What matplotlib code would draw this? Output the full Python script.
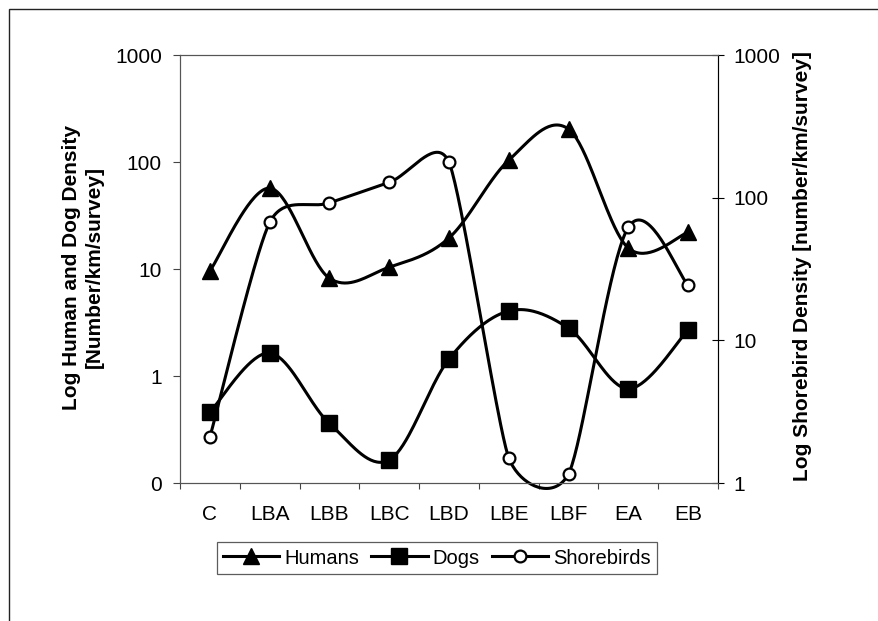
import numpy as np
import matplotlib
matplotlib.use("Agg")
import matplotlib.pyplot as plt
from matplotlib.lines import Line2D
from matplotlib.patches import Rectangle
from matplotlib.ticker import FixedLocator, FixedFormatter, NullLocator

plt.rcParams['font.family'] = ['Liberation Sans', 'DejaVu Sans']

# Survey sites
sites = ["C", "LBA", "LBB", "LBC", "LBD", "LBE", "LBF", "EA", "EB"]

# Densities (number/km/survey)
humans = [9.6, 57, 8.2, 10.4, 19.5, 104, 203, 15.7, 22]
dogs = [0.46, 1.64, 0.36, 0.164, 1.44, 4.05, 2.8, 0.76, 2.7]
shorebirds = [2.1, 67, 92, 128, 177, 1.5, 1.16, 62, 24.4]

left_ticks = [0.1, 1, 10, 100, 1000]
left_labels = ["0", "1", "10", "100", "1000"]
right_ticks = [1, 10, 100, 1000]
right_labels = ["1", "10", "100", "1000"]


def smooth_curve(ax, xs, ys, n=40):
    """Bezier smoothing in screen space, tangents limited by segment lengths."""
    to_disp = ax.transData
    pts = to_disp.transform(np.column_stack([xs, ys]))
    npts = len(pts)
    out_ctrl = []
    in_ctrl = []
    for i in range(npts):
        p_prev = pts[max(i - 1, 0)]
        p_next = pts[min(i + 1, npts - 1)]
        d = p_next - p_prev
        d02 = np.hypot(*d)
        d01 = np.hypot(*(pts[i] - p_prev))
        d12 = np.hypot(*(p_next - pts[i]))
        f = 1.0 / 6.0
        if 0 < i < npts - 1 and d02 > 0:
            if d02 / 6 >= d12 / 2 or d02 / 6 >= d01 / 2:
                f = min(d01, d12) / (2 * d02)
        out_ctrl.append(pts[i] + f * d)
        in_ctrl.append(pts[i] - f * d)
    t = np.linspace(0, 1, n)[:, None]
    segs = []
    for i in range(npts - 1):
        p1, p2 = pts[i], pts[i + 1]
        c1, c2 = out_ctrl[i], in_ctrl[i + 1]
        seg = (1 - t) ** 3 * p1 + 3 * (1 - t) ** 2 * t * c1 + 3 * (1 - t) * t ** 2 * c2 + t ** 3 * p2
        segs.append(seg if i == 0 else seg[1:])
    curve = to_disp.inverted().transform(np.vstack(segs))
    return curve[:, 0], curve[:, 1]


fig = plt.figure(figsize=(8.79, 6.21), dpi=100)
ax = fig.add_axes([0.2048, 0.2222, 0.612, 0.6892])
ax2 = ax.twinx()

x = np.arange(len(sites))
for a in (ax, ax2):
    a.set_yscale("log")
    a.set_xlim(-0.5, len(sites) - 0.5)
ax.set_ylim(0.1, 1000)
ax2.set_ylim(1, 1000)

lw = 2.2
# Humans and dogs on the left axis
hx, hy = smooth_curve(ax, x, humans)
ax.plot(hx, hy, color="black", lw=lw)
ax.plot(x, humans, ls="none", marker="^", ms=11.5, color="black")
dx, dy = smooth_curve(ax, x, dogs)
ax.plot(dx, dy, color="black", lw=lw)
ax.plot(x, dogs, ls="none", marker="s", ms=11, color="black")

# Shorebirds on the right axis
sx, sy = smooth_curve(ax2, x, shorebirds)
ax2.plot(sx, sy, color="black", lw=lw, clip_on=False)
ax2.plot(x, shorebirds, ls="none", marker="o", ms=8.5, mfc="white",
         mec="black", mew=1.6, clip_on=False)

# Axis ticks and labels
ax.yaxis.set_major_locator(FixedLocator(left_ticks))
ax.yaxis.set_major_formatter(FixedFormatter(left_labels))
ax.yaxis.set_minor_locator(NullLocator())
ax2.yaxis.set_major_locator(FixedLocator(right_ticks))
ax2.yaxis.set_major_formatter(FixedFormatter(right_labels))
ax2.yaxis.set_minor_locator(NullLocator())

ax.set_xticks(x)
ax.set_xticklabels(sites)
ax.set_xticks(np.arange(-0.5, len(sites)), minor=True)
ax.tick_params(axis="x", which="major", length=0, pad=16, labelsize=15)
ax.tick_params(axis="x", which="minor", length=4, width=0.8, color="#444444")
ax.tick_params(axis="y", length=5, width=0.8, pad=8, labelsize=15, color="#444444")
ax2.tick_params(axis="y", direction="inout", length=8, width=0.8, pad=7, labelsize=15)

for a in (ax, ax2):
    for name, sp in a.spines.items():
        sp.set_linewidth(0.8)
        sp.set_color("#555555")
ax2.spines["right"].set_color("black")

fig.text(0.094, 0.57, "Log Human and Dog Density\n[Number/km/survey]", rotation=90,
         ha="center", va="center", ma="center", fontsize=15, fontweight="bold",
         linespacing=1.25)
fig.text(0.913, 0.572, "Log Shorebird Density [number/km/survey]", rotation=90,
         ha="center", va="center", fontsize=15, fontweight="bold")

handles = [
    Line2D([], [], color="black", lw=lw, marker="^", ms=11.5),
    Line2D([], [], color="black", lw=lw, marker="s", ms=11),
    Line2D([], [], color="black", lw=lw, marker="o", ms=8.5, mfc="white", mew=1.6),
]
leg = fig.legend(handles, ["Humans", "Dogs", "Shorebirds"], loc="center",
                 bbox_to_anchor=(0.497, 0.1014), ncol=3, fontsize=14.5,
                 frameon=True, fancybox=False, handlelength=2.8,
                 handletextpad=0.25, columnspacing=0.6, borderpad=0.3,
                 borderaxespad=0)
leg.get_frame().set_edgecolor("#333333")
leg.get_frame().set_linewidth(0.9)

# Chart border
fig.patches.append(Rectangle((9 / 879, -0.1), 1.2, 1 - 9 / 621 + 0.1,
                             transform=fig.transFigure, fill=False,
                             edgecolor="#222222", lw=1.0))

fig.savefig("out.png", dpi=100)
